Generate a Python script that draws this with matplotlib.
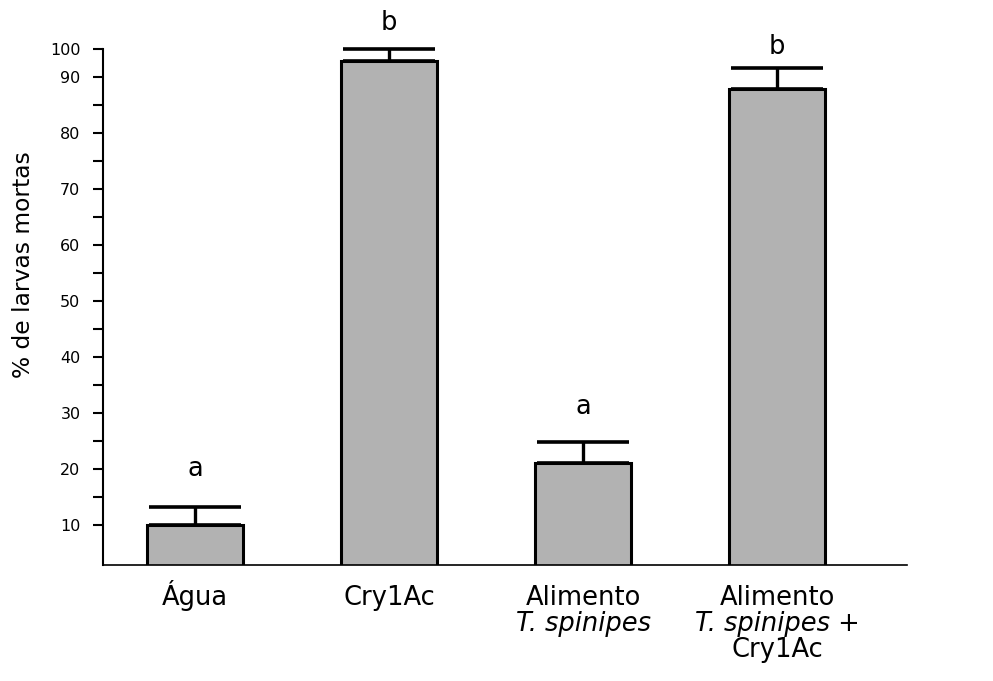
import matplotlib
matplotlib.use("Agg")
import matplotlib.pyplot as plt
import numpy as np

# data (axis in the original is drawn with a squeezed top tick)
# each category label: list of lines, each line a list of (text, fontstyle) pieces
groups = [[[("Água", "normal")]],
          [[("Cry1Ac", "normal")]],
          [[("Alimento", "normal")], [("T. spinipes", "italic")]],
          [[("Alimento", "normal")], [("T. spinipes", "italic"), (" +", "normal")],
           [("Cry1Ac", "normal")]]]
mortality = [10.0, 92.9, 21.1, 87.9]
err_up = [3.3, 2.1, 3.7, 3.8]
letters = ["a", "b", "a", "b"]
letter_y = [18.8, 98.4, 29.8, 94.1]

tick_pos = [10, 15, 20, 25, 30, 35, 40, 45, 50, 55, 60, 65, 70, 75, 80, 85, 90, 95]
tick_lab = ["10", "", "20", "", "30", "", "40", "", "50", "", "60", "", "70", "",
            "80", "", "90", "100"]

fig = plt.figure(figsize=(9.93, 6.81), dpi=100)
ax = fig.add_axes([0.1034, 0.1703, 0.81, 0.7577])

x = np.arange(len(groups))
ax.bar(x, mortality, width=0.49, color="#b2b2b2", edgecolor="black", linewidth=2.2, zorder=2)
eb = ax.errorbar(x, mortality, yerr=[np.zeros(len(x)), err_up], fmt="none", ecolor="black",
                 elinewidth=2.4, capsize=33, capthick=2.6, zorder=1)
for a in eb.lines[1]:
    a.set_clip_on(False)
for a in eb.lines[2]:
    a.set_clip_on(False)

for xi, lab, ly in zip(x, letters, letter_y):
    ax.text(xi, ly, lab, ha="center", va="baseline", fontsize=18.5, clip_on=False)

# category labels drawn piece by piece so italic and upright text share a line
renderer = fig.canvas.get_renderer()
for xi, lines in zip(x, groups):
    for i, line in enumerate(lines):
        pieces = []
        for txt, style in line:
            t = ax.annotate(txt, xy=(xi, 0), xycoords=("data", "axes fraction"),
                            xytext=(0, -28.8 - i * 18.7), textcoords="offset points",
                            ha="left", va="baseline", fontsize=18.5, fontstyle=style)
            w = t.get_window_extent(renderer).width * 72 / fig.dpi
            pieces.append((t, w))
        total = sum(w for _, w in pieces)
        pos = -total / 2
        for t, w in pieces:
            t.set_position((pos, -28.8 - i * 18.7))
            pos += w

ax.set_xlim(-0.476, 3.67)
ax.set_ylim(2.9, 95)
ax.set_yticks(tick_pos)
ax.set_yticklabels(tick_lab, fontsize=11.5)
ax.tick_params(axis="y", length=7, width=1.5, pad=9, direction="out")
ax.set_xticks([])

ax.set_ylabel("% de larvas mortas", fontsize=16.8)
ax.yaxis.set_label_coords(-0.084, 0.583)

ax.spines["top"].set_visible(False)
ax.spines["right"].set_visible(False)
ax.spines["left"].set_linewidth(1.5)
ax.spines["bottom"].set_linewidth(1.2)

fig.savefig("out.png", dpi=100)
